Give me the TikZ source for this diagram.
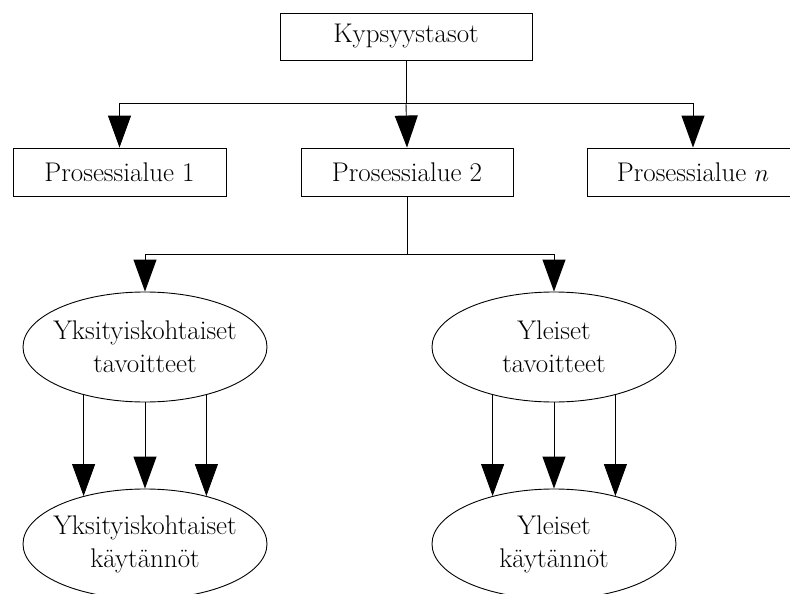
\documentclass[tikz,border=0pt]{standalone}
\usetikzlibrary{arrows.meta,shapes.geometric}
\begin{document}
\begin{tikzpicture}[x=1pt,y=-1pt,
  every node/.style={font=\fontsize{27}{33}\selectfont, align=center, inner sep=0pt},
  box/.style={draw, line width=0.9pt, rectangle, minimum width=#1, minimum height=48pt},
  oval/.style={draw, line width=0.9pt, ellipse, inner xsep=-45pt, minimum width=244pt, minimum height=110pt},
  link/.style={line width=0.9pt},
  arr/.style={line width=0.9pt, -{Triangle[length=32pt,width=23pt]}}]
\useasboundingbox (0,0) rectangle (790,594);
\clip (0,0) rectangle (790,594);

% levels and process areas
\node[box=252pt, minimum height=47pt] (k)  at (406,36.5) {Kypsyystasot};
\node[box=213pt] (p1) at (119.5,172) {Prosessialue 1};
\node[box=212pt] (p2) at (407,172) {Prosessialue 2};
\node[box=212pt] (pn) at (693,172) {Prosessialue $n$};

% goals and practices
\node[oval] (e1) at (145,347) {Yksityiskohtaiset\\tavoitteet};
\node[oval] (e2) at (554,347) {Yleiset\\tavoitteet};
\node[oval] (e3) at (145,544) {Yksityiskohtaiset\\käytännöt};
\node[oval] (e4) at (554,544) {Yleiset\\käytännöt};

% tree from the levels box
\coordinate (j1) at (406,103);
\draw[link] (k.south) -- (j1);
\draw[arr] (j1) -| (p1.north);
\draw[arr] (j1) -- (p2.north);
\draw[arr] (j1) -| (pn.north);

% tree from process area 2
\coordinate (j2) at (407,254);
\draw[link] (p2.south) -- (j2);
\draw[arr] (j2) -| (e1.north);
\draw[arr] (j2) -| (e2.north);

% goals to practices
\draw[arr] (e1.218) -- (e3.142);
\draw[arr] (e1.south) -- (e3.north);
\draw[arr] (e1.322) -- (e3.38);
\draw[arr] (e2.218) -- (e4.142);
\draw[arr] (e2.south) -- (e4.north);
\draw[arr] (e2.322) -- (e4.38);
\end{tikzpicture}
\end{document}
